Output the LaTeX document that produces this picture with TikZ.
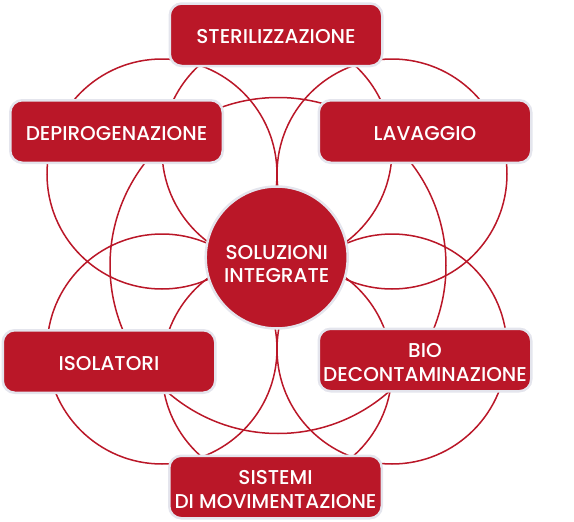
\documentclass[tikz,border=0pt]{standalone}
\usepackage{fontspec}
\setmainfont{Poppins}[UprightFont={* Medium}]
\usetikzlibrary{positioning}
\definecolor{brandred}{RGB}{186,23,40}
\definecolor{rimgray}{RGB}{228,229,237}

\begin{document}
\begin{tikzpicture}[x=1pt,y=-1pt,
    ring/.style={draw=brandred,line width=1.5pt},
    main node/.style={circle,fill=brandred,draw=rimgray,line width=2.5pt,minimum size=142pt,
      inner sep=0pt,text=white,align=center,font=\fontsize{20}{23.4}\selectfont},
    side node/.style={rectangle,rounded corners=12pt,fill=brandred,draw=rimgray,line width=2.5pt,
      minimum width=212.5pt,minimum height=62.5pt,inner sep=0pt,text=white,align=center,
      font=\fontsize{20}{23.4}\selectfont},
    one line/.style={text height=18pt,text depth=0pt},
    two lines/.style={text height=42.5pt}]

  \useasboundingbox (0,0) rectangle (574,522);

  \coordinate (m) at (278,265.5);
  \coordinate (t) at (277,150);
  \coordinate (b) at (277,370);
  \coordinate (ul) at (162,174);
  \coordinate (ur) at (392,174);
  \coordinate (ll) at (162,349);
  \coordinate (lr) at (392,349);

  \draw[ring] (m) circle[radius=168pt];
  \foreach \c in {t,b,ul,ur,ll,lr}
    \draw[ring] (\c) circle[radius=115pt];

  \node[main node,text height=51pt] (c) at (276.7,257.5) {SOLUZIONI\\INTEGRATE};
  \node[side node,one line] (1) at (276,34.75) {STERILIZZAZIONE};
  \node[side node,one line] (2) at (116.5,131.5) {DEPIROGENAZIONE};
  \node[side node,one line] (3) at (425,131.5) {LAVAGGIO};
  \node[side node,one line] (4) at (109,361.5) {ISOLATORI};
  \node[side node,two lines] (5) at (425,360) {BIO\\DECONTAMINAZIONE};
  \node[side node,two lines] (6) at (275.5,487) {SISTEMI\\DI MOVIMENTAZIONE};
\end{tikzpicture}
\end{document}
